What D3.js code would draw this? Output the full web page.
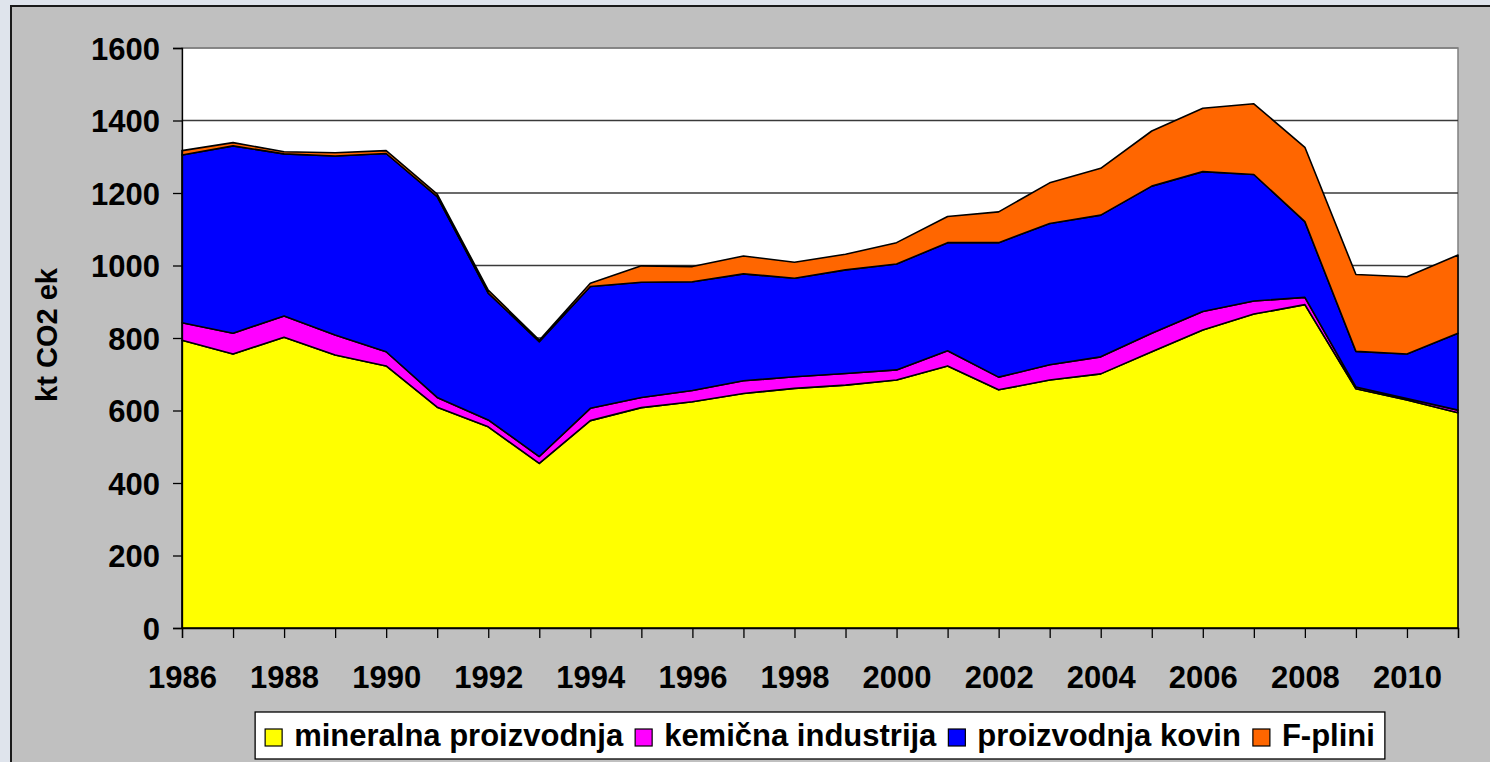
<!DOCTYPE html>
<html>
<head>
<meta charset="utf-8">
<script src="https://cdn.jsdelivr.net/npm/d3@7"></script>
<style>
  html, body { margin: 0; padding: 0; background: #dfe4ec; }
  svg { display: block; font-family: "Liberation Sans", Arial, sans-serif; font-weight: bold; }
</style>
</head>
<body>
<div id="chart"></div>
<script>
const years = [1986, 1987, 1988, 1989, 1990, 1991, 1992, 1993, 1994, 1995, 1996, 1997, 1998,
               1999, 2000, 2001, 2002, 2003, 2004, 2005, 2006, 2007, 2008, 2009, 2010, 2011];
const mineralna = [794, 756, 802, 753, 723, 609, 555, 454, 572, 608, 624, 647, 661,
                   670, 684, 723, 657, 684, 701, 762, 822, 866, 892, 660, 629, 594];
const kemicna = [48, 57, 59, 55, 39, 27, 19, 19, 34, 28, 31, 35, 32,
                 32, 28, 42, 35, 42, 47, 51, 51, 36, 20, 5, 4, 7];
const kovine = [463, 517, 447, 494, 547, 554, 350, 317, 336, 318, 300, 295, 272,
                286, 292, 298, 371, 390, 391, 406, 386, 349, 209, 98, 123, 212];
const fplini = [12, 9, 6, 9, 8, 7, 8, 4, 9, 45, 42, 49, 44,
                43, 59, 72, 85, 112, 129, 152, 175, 195, 205, 212, 213, 216];
const seriesNames = ["mineralna proizvodnja", "kemična industrija", "proizvodnja kovin", "F-plini"];
const colors = ["#ffff00", "#ff00ff", "#0000ff", "#ff6600"];
const yTicks = [0, 200, 400, 600, 800, 1000, 1200, 1400, 1600];
const xLabels = [1986, 1988, 1990, 1992, 1994, 1996, 1998, 2000, 2002, 2004, 2006, 2008, 2010];

const W = 1490, H = 762;
const plot = { left: 182, top: 48, right: 1458, bottom: 628 };

const svg = d3.select("#chart").append("svg")
    .attr("width", W)
    .attr("height", H);

// okvir grafa
svg.append("rect")
    .attr("x", 11).attr("y", 6)
    .attr("width", W).attr("height", H)
    .attr("fill", "#c0c0c0")
    .attr("stroke", "#1a1a1a")
    .attr("stroke-width", 2);

svg.append("rect")
    .attr("x", plot.left).attr("y", plot.top)
    .attr("width", plot.right - plot.left).attr("height", plot.bottom - plot.top)
    .attr("fill", "#ffffff")
    .attr("stroke", "#808080")
    .attr("stroke-width", 1.5);

const x = d3.scaleLinear()
    .domain([years[0], years[years.length - 1]])
    .range([plot.left, plot.right]);

const y = d3.scaleLinear()
    .domain([0, 1600])
    .range([plot.bottom, plot.top]);

// mreža
svg.selectAll(".grid")
    .data(yTicks.filter(d => d > 0))
    .enter().append("line")
    .attr("class", "grid")
    .attr("x1", plot.left).attr("x2", plot.right)
    .attr("y1", d => y(d)).attr("y2", d => y(d))
    .attr("stroke", d => d === 1600 ? "#808080" : "#3a3a3a")
    .attr("stroke-width", 1.3);

const table = years.map((yr, i) => ({
    year: yr,
    [seriesNames[0]]: mineralna[i],
    [seriesNames[1]]: kemicna[i],
    [seriesNames[2]]: kovine[i],
    [seriesNames[3]]: fplini[i]
}));

const stack = d3.stack().keys(seriesNames);
const layers = stack(table);

const area = d3.area()
    .x(d => x(d.data.year))
    .y0(d => y(d[0]))
    .y1(d => y(d[1]));

svg.selectAll(".layer")
    .data(layers)
    .enter().append("path")
    .attr("class", "layer")
    .attr("d", area)
    .attr("fill", (d, i) => colors[i])
    .attr("stroke", "#000")
    .attr("stroke-width", 1.6)
    .attr("stroke-linejoin", "round");

// os Y
const yAxis = svg.append("g")
    .attr("transform", `translate(${plot.left},0)`)
    .call(d3.axisLeft(y).tickValues(yTicks).tickSize(9).tickPadding(13).tickFormat(d3.format("d")));
yAxis.select(".domain").attr("stroke", "#000").attr("stroke-width", 1.3);
yAxis.selectAll(".tick line").attr("stroke", "#000").attr("stroke-width", 1.3);
yAxis.selectAll("text")
    .attr("fill", "#000")
    .style("font-size", "31px")
    .style("font-weight", "bold")
    .attr("dy", "0.36em");

// os X
const xAxis = svg.append("g")
    .attr("transform", `translate(0,${plot.bottom})`)
    .call(d3.axisBottom(x).tickValues(years).tickSize(10).tickPadding(28).tickFormat(d => xLabels.includes(d) ? d : ""));
xAxis.select(".domain").attr("stroke", "#000").attr("stroke-width", 1.3);
xAxis.selectAll(".tick line").attr("stroke", "#000").attr("stroke-width", 1.3);
xAxis.selectAll("text")
    .attr("fill", "#000")
    .style("font-size", "31px")
    .style("font-weight", "bold");

// naslov osi Y
svg.append("text")
    .attr("transform", "translate(57,335) rotate(-90)")
    .attr("text-anchor", "middle")
    .style("font-size", "29px")
    .text("kt CO2 ek");

// legenda
const legend = svg.append("g");
const legendBox = legend.append("rect")
    .attr("fill", "#fff")
    .attr("stroke", "#000")
    .attr("stroke-width", 1.3);

let lx = 0;
seriesNames.forEach((name, i) => {
    legend.append("rect")
        .attr("x", lx).attr("y", -17)
        .attr("width", 17).attr("height", 17)
        .attr("fill", colors[i])
        .attr("stroke", "#000")
        .attr("stroke-width", 1.2);
    const t = legend.append("text")
        .attr("x", lx + 29).attr("y", 0)
        .style("font-size", "31px")
        .text(name);
    lx += 29 + t.node().getComputedTextLength() + 12;
});
lx -= 12;
const legendLeft = (plot.left + plot.right) / 2 - lx / 2;
legend.selectAll("rect:not(:first-child), text").attr("transform", `translate(${legendLeft},746)`);
legendBox
    .attr("x", legendLeft - 10).attr("y", 712)
    .attr("width", lx + 20).attr("height", 47);
</script>
</body>
</html>
